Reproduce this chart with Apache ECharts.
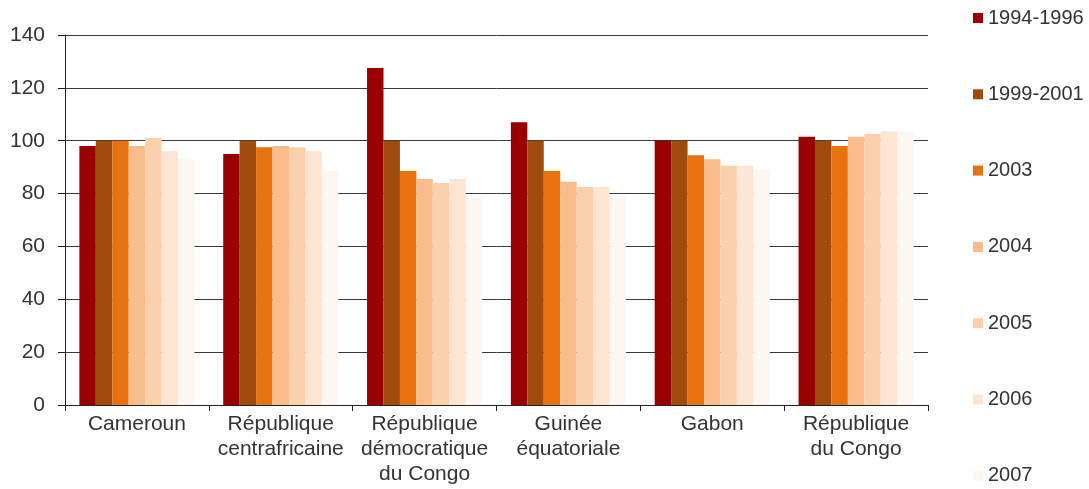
<!DOCTYPE html>
<html>
<head>
<meta charset="utf-8">
<script src="https://cdn.jsdelivr.net/npm/echarts@6/dist/echarts.min.js"></script>
<style>html,body{margin:0;padding:0;background:#fff;}#c{width:1089px;height:489px;}</style>
</head>
<body>
<div id="c"></div>
<script>
const categories = ['Cameroun', 'République\ncentrafricaine', 'République\ndémocratique\ndu Congo', 'Guinée\néquatoriale', 'Gabon', 'République\ndu Congo'];
const seriesNames = ['1994-1996', '1999-2001', '2003', '2004', '2005', '2006', '2007'];
const s1994_1996 = [98, 95, 127.5, 107, 100, 101.5];
const s1999_2001 = [100, 100, 100, 100, 100, 100];
const s2003 = [100, 97.5, 88.5, 88.5, 94.5, 98];
const s2004 = [98, 98, 85.5, 84.5, 93, 101.5];
const s2005 = [101, 97.5, 84, 82.5, 90.5, 102.5];
const s2006 = [96, 96, 85.5, 82.5, 90.5, 103.5];
const s2007 = [93, 88.5, 78.5, 79, 89, 103.5];
const yTicks = { min: 0, max: 140, interval: 20 };

const seriesData = [s1994_1996, s1999_2001, s2003, s2004, s2005, s2006, s2007];
const colors = ['#990000', '#9E4B0E', '#E8720E', '#F9BD8B', '#FBD1AD', '#FDE6D4', '#FEF6F0'];

const chart = echarts.init(document.getElementById('c'), null, { renderer: 'canvas' });
chart.setOption({
  animation: false,
  backgroundColor: '#fff',
  textStyle: { fontFamily: 'Liberation Sans, Arial, sans-serif' },
  grid: { left: 65, right: 161, top: 35, bottom: 84, containLabel: false },
  legend: {
    orient: 'vertical',
    left: 973,
    top: 8,
    padding: 0,
    itemWidth: 10,
    itemHeight: 10,
    itemGap: 56.3,
    icon: 'rect',
    textStyle: { fontSize: 20, color: '#333', lineHeight: 20, fontFamily: 'Liberation Sans, Arial, sans-serif' },
    data: seriesNames
  },
  xAxis: {
    type: 'category',
    data: categories,
    boundaryGap: true,
    axisLine: { lineStyle: { color: '#222', width: 1 } },
    axisTick: { show: true, inside: false, length: 6, lineStyle: { color: '#222' } },
    axisLabel: { fontSize: 21, color: '#333', margin: 7, lineHeight: 25, interval: 0 },
    splitLine: { show: false }
  },
  yAxis: {
    type: 'value',
    min: yTicks.min,
    max: yTicks.max,
    interval: yTicks.interval,
    axisLine: { show: true, lineStyle: { color: '#222', width: 1 } },
    axisTick: { show: true, inside: false, length: 7, lineStyle: { color: '#222' } },
    axisLabel: { fontSize: 21, color: '#333', margin: 20 },
    splitLine: { show: true, lineStyle: { color: '#3a3a3a', width: 1 } }
  },
  series: seriesNames.map((name, i) => ({
    name: name,
    type: 'bar',
    data: seriesData[i],
    barGap: '0%',
    barCategoryGap: '20%',
    itemStyle: { color: colors[i] },
    emphasis: { disabled: true }
  }))
});
</script>
</body>
</html>
